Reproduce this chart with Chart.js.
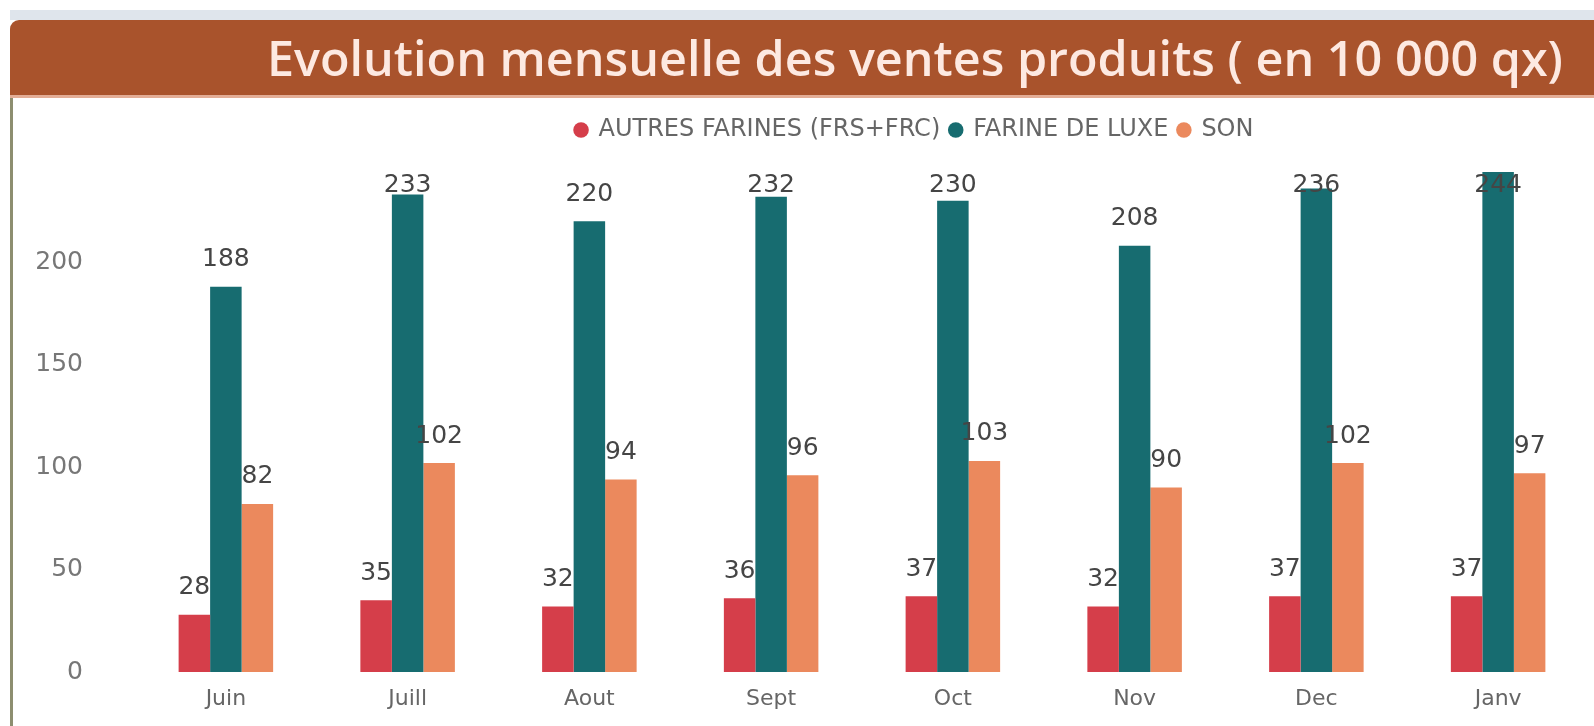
<!DOCTYPE html>
<html>
<head>
<meta charset="utf-8">
<script src="https://cdn.jsdelivr.net/npm/chart.js@4.4.1/dist/chart.umd.min.js"></script>
<style>
  body { margin: 0; background: #fff; overflow: hidden; width: 1594px; height: 726px; position: relative; }
  #strip { position: absolute; left: 10px; right: 0; top: 10px; height: 10px; background: #dfe5ec; }
  #head {
    position: absolute; left: 10px; right: 0; top: 20px; height: 75px;
    background: #a9532c; border-top-left-radius: 9px;
    border-bottom: 3px solid #e3ad96;
    color: #fde9e1; font: 600 48.5px "Open Sans", sans-serif;
    text-align: right; line-height: 75px; padding-right: 31px; box-sizing: content-box;
  }
  #edge { position: absolute; left: 10px; top: 98px; width: 3px; bottom: 0; background: #8d8e70; }
  #myChart { position: absolute; left: 14px; top: 98px; }
</style>
</head>
<body>
<div id="strip"></div>
<div id="head">Evolution mensuelle des ventes produits ( en 10 000 qx)</div>
<div id="edge"></div>
<canvas id="myChart" width="1580" height="641"></canvas>
<script>
// mois
let labels = ['Juin', 'Juill', 'Aout', 'Sept', 'Oct', 'Nov', 'Dec', 'Janv'];

// ventes par produit (en 10 000 qx)
let autresFarines = [28, 35, 32, 36, 37, 32, 37, 37];
let farineLuxe = [188, 233, 220, 232, 230, 208, 236, 244];
let son = [82, 102, 94, 96, 103, 90, 102, 97];

let yTicks = [0, 50, 100, 150, 200];

Chart.defaults.font.family = '"DejaVu Sans", sans-serif';

// valeurs au dessus des barres
const valueLabels = {
    id: 'valueLabels',
    afterDatasetsDraw(chart) {
        let ctx = chart.ctx;
        ctx.save();
        ctx.font = '25px "DejaVu Sans"';
        ctx.fillStyle = '#454545';
        ctx.textAlign = 'center';
        ctx.textBaseline = 'middle';
        chart.data.datasets.forEach(function(ds, i) {
            chart.getDatasetMeta(i).data.forEach(function(bar, j) {
                let y = Math.max(bar.y - 27, chart.chartArea.top + 15);
                ctx.fillText(ds.data[j], bar.x, y);
            });
        });
        ctx.restore();
    }
};

// legende: hauteur fixe et un peu decalee vers la droite
const legendTweak = {
    id: 'legendTweak',
    beforeLayout(chart) {
        let lg = chart.legend;
        if (lg && !lg._patched) {
            let fit = lg.fit;
            lg.fit = function() {
                fit.call(this);
                this.height = 62;
            };
            lg._patched = true;
        }
    },
    afterLayout(chart) {
        chart.legend.left += 113;
        chart.legend.right += 113;
    }
};

let data = {
    labels: labels,
    datasets: [{
        label: 'AUTRES FARINES (FRS+FRC)',
        backgroundColor: 'rgb(213, 62, 74)',
        data: autresFarines
    }, {
        label: 'FARINE DE LUXE',
        backgroundColor: 'rgb(23, 108, 112)',
        data: farineLuxe
    }, {
        label: 'SON',
        backgroundColor: 'rgb(235, 137, 93)',
        data: son
    }]
};

let config = {
    type: 'bar',
    data: data,
    options: {
        responsive: false,
        animation: false,
        categoryPercentage: 0.52,
        barPercentage: 1.0,
        layout: {
            padding: { top: 10, right: 5, bottom: 0, left: 0 }
        },
        plugins: {
            legend: {
                labels: {
                    usePointStyle: true,
                    pointStyle: 'circle',
                    boxWidth: 11,
                    boxHeight: 11,
                    padding: 10,
                    color: '#666',
                    font: { size: 24 }
                }
            },
            tooltip: { enabled: false }
        },
        scales: {
            x: {
                grid: { display: false, drawTicks: false },
                border: { display: false },
                afterFit: function(scale) {
                    scale.height = 55;
                },
                ticks: { color: '#666', font: { size: 22 }, padding: 14 }
            },
            y: {
                min: 0,
                max: 245,
                grid: { display: false, drawTicks: false },
                border: { display: false },
                afterBuildTicks: function(scale) {
                    scale.ticks = yTicks.map(function(v) { return { value: v }; });
                },
                afterFit: function(scale) {
                    scale.width = 121;
                },
                ticks: { color: '#777', font: { size: 25 }, padding: 52 }
            }
        }
    },
    plugins: [valueLabels, legendTweak]
};

const myChart = new Chart(document.getElementById('myChart'), config);
</script>
</body>
</html>
